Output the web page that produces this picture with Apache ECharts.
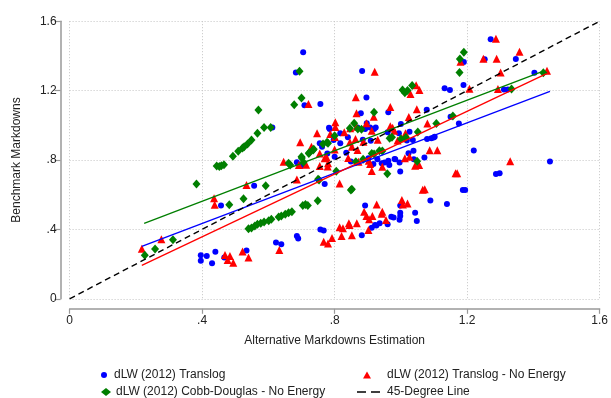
<!DOCTYPE html>
<html>
<head>
<meta charset="utf-8">
<script src="https://cdn.jsdelivr.net/npm/echarts@6/dist/echarts.min.js"></script>
<style>
  html, body { margin: 0; padding: 0; background: #fff; }
  #chart { width: 611px; height: 398px; }
</style>
</head>
<body>
<div id="chart"></div>
<script>
// dLW (2012) Translog (blue dots)
const translog = [
  [0.396, 0.251], [0.414, 0.247], [0.44, 0.271], [0.396, 0.22], [0.43, 0.205], [0.467, 0.238],
  [0.534, 0.279], [0.457, 0.538], [0.557, 0.652], [0.623, 0.325], [0.639, 0.315], [0.686, 0.362],
  [0.69, 0.348], [0.757, 0.4], [0.767, 0.394], [0.77, 0.662], [0.882, 0.367], [0.892, 0.538],
  [0.922, 0.425], [0.998, 0.733], [1.298, 0.723], [1.089, 0.567], [1.139, 0.546], [1.194, 0.627],
  [0.998, 0.538], [0.971, 0.473], [0.978, 0.469], [0.998, 0.496], [0.998, 0.477], [0.996, 0.456],
  [1.043, 0.496], [1.048, 0.448], [0.96, 0.429], [0.936, 0.435], [0.926, 0.423], [0.912, 0.41],
  [0.705, 1.421], [0.683, 1.305], [0.883, 1.313], [0.709, 1.115], [0.757, 1.123], [0.896, 1.16],
  [0.612, 0.988], [0.879, 1.069], [0.897, 1.012], [0.907, 0.988], [0.785, 0.979], [0.817, 0.954],
  [0.797, 0.915], [0.84, 0.931], [0.755, 0.896], [0.762, 0.877], [0.778, 0.838], [0.686, 0.787],
  [0.699, 0.765], [0.849, 0.792], [0.917, 0.777], [0.962, 1.075], [1.078, 1.09], [1.175, 1.01],
  [0.869, 0.988], [0.885, 0.917], [0.892, 0.979], [0.919, 0.979], [0.96, 0.96], [0.994, 0.954],
  [1.018, 0.912], [1.0, 1.007], [1.079, 0.921], [1.092, 0.925], [1.099, 0.929], [1.038, 0.854],
  [1.22, 0.855], [1.287, 0.719], [1.187, 0.627], [1.039, 0.804], [0.962, 0.796], [0.942, 0.781],
  [1.271, 1.496], [1.19, 1.365], [1.253, 1.38], [1.347, 1.382], [1.403, 1.303], [1.189, 1.232],
  [1.132, 1.213], [1.148, 1.203], [1.311, 1.207], [1.323, 1.207], [1.102, 0.934], [1.45, 0.792],
  [1.15, 1.05], [0.783, 0.986], [0.924, 0.988], [0.909, 0.911], [0.817, 0.896], [0.835, 0.842],
  [0.8, 0.819], [0.902, 0.81], [0.929, 0.804], [0.951, 0.785], [0.983, 0.804], [1.026, 0.963],
  [1.036, 0.915], [1.023, 0.839], [1.071, 0.815], [0.981, 0.806], [0.996, 0.785], [0.965, 0.771]
];

// dLW (2012) Translog - No Energy (red triangles)
const translogNoEnergy = [
  [0.218, 0.289], [0.277, 0.343], [0.469, 0.252], [0.484, 0.246], [0.477, 0.223], [0.494, 0.208],
  [0.522, 0.273], [0.54, 0.238], [0.633, 0.281], [0.436, 0.579], [0.438, 0.542], [0.534, 0.656],
  [0.686, 0.688], [0.815, 0.665], [0.767, 0.329], [0.78, 0.319], [0.792, 0.35], [0.815, 0.412],
  [0.825, 0.406], [0.821, 0.362], [0.843, 0.435], [0.867, 0.435], [0.852, 0.367], [0.889, 0.502],
  [0.896, 0.477], [0.904, 0.458], [0.902, 0.396], [0.912, 0.737], [1.17, 0.723], [1.072, 0.631],
  [0.927, 0.544], [1.003, 0.569], [1.006, 0.544], [1.02, 0.55], [0.914, 0.477], [0.944, 0.502],
  [0.942, 0.49], [0.955, 0.454], [0.845, 0.425], [0.921, 1.309], [0.721, 1.123], [0.864, 1.162],
  [0.866, 1.069], [0.802, 1.017], [0.802, 0.99], [0.866, 0.992], [0.801, 0.933], [0.829, 0.96],
  [0.846, 0.902], [0.852, 0.877], [0.747, 0.954], [0.696, 0.902], [0.73, 0.877], [0.755, 0.838],
  [0.776, 0.815], [0.646, 0.79], [0.692, 0.771], [0.714, 0.773], [0.755, 0.765], [0.841, 0.812],
  [0.872, 0.79], [0.907, 0.777], [1.046, 1.231], [1.056, 1.204], [1.029, 1.181], [1.207, 1.21],
  [0.918, 1.05], [0.968, 1.106], [1.048, 1.093], [1.08, 1.011], [0.847, 0.983], [0.863, 0.921],
  [0.912, 0.969], [0.93, 0.917], [0.968, 0.994], [0.98, 0.969], [0.99, 0.912], [1.014, 0.954],
  [1.024, 1.048], [1.087, 0.856], [1.11, 0.856], [1.33, 0.793], [1.165, 0.724], [1.066, 0.629],
  [1.043, 0.767], [1.012, 0.81], [0.903, 0.796], [1.287, 1.499], [1.18, 1.367], [1.249, 1.384],
  [1.289, 1.384], [1.358, 1.424], [1.301, 1.305], [1.441, 1.315], [1.293, 1.209], [0.896, 1.012],
  [0.975, 0.986], [0.787, 0.95], [0.887, 0.905], [0.869, 0.858], [0.8, 0.86], [0.77, 0.81],
  [0.78, 0.781], [0.779, 0.762], [0.944, 0.761], [1.026, 0.819], [1.055, 0.771], [1.001, 0.925]
];

// dLW (2012) Cobb-Douglas - No Energy (green diamonds)
const cobbDouglas = [
  [0.227, 0.251], [0.258, 0.287], [0.312, 0.341], [0.383, 0.662], [0.444, 0.765], [0.452, 0.762],
  [0.458, 0.767], [0.466, 0.772], [0.482, 0.542], [0.525, 0.577], [0.592, 0.652], [0.753, 0.685],
  [0.849, 0.627], [0.54, 0.404], [0.549, 0.408], [0.559, 0.419], [0.567, 0.429], [0.577, 0.435],
  [0.587, 0.442], [0.601, 0.45], [0.609, 0.458], [0.631, 0.471], [0.639, 0.477], [0.651, 0.488],
  [0.661, 0.496], [0.671, 0.502], [0.704, 0.538], [0.712, 0.544], [0.719, 0.538], [0.749, 0.565],
  [0.57, 1.088], [0.587, 0.988], [0.607, 0.988], [0.567, 0.954], [0.549, 0.915], [0.537, 0.892],
  [0.527, 0.877], [0.522, 0.869], [0.509, 0.85], [0.493, 0.821], [0.694, 1.312], [0.7, 1.158],
  [0.678, 1.119], [0.859, 1.012], [0.846, 0.983], [0.881, 0.977], [0.919, 1.075], [0.78, 0.896],
  [0.765, 0.892], [0.735, 0.858], [0.722, 0.838], [0.701, 0.812], [0.706, 0.787], [0.666, 0.771],
  [0.805, 0.735], [1.005, 1.204], [1.02, 1.2], [1.034, 1.229], [1.012, 1.187], [0.87, 0.979],
  [0.966, 0.925], [1.0, 0.921], [1.051, 0.962], [0.959, 0.721], [1.049, 0.793], [0.935, 0.854],
  [0.912, 0.838], [1.19, 1.421], [1.178, 1.382], [1.177, 1.305], [1.43, 1.303], [1.334, 1.209],
  [1.107, 1.011], [1.157, 1.054], [0.8, 0.94], [0.777, 0.902], [0.737, 0.862], [0.723, 0.842],
  [0.7, 0.819], [0.661, 0.781], [0.864, 0.79], [0.886, 0.804], [0.919, 0.835], [0.944, 0.852],
  [0.75, 0.689], [0.852, 0.631], [0.973, 0.931], [1.015, 0.929]
];

// fitted lines
const fitTranslog = [[0.218, 0.302], [1.45, 1.196]];
const fitTranslogNoEnergy = [[0.218, 0.193], [1.44, 1.298]];
const fitCobbDouglas = [[0.225, 0.435], [1.43, 1.312]];
const line45 = [[0, 0], [1.6, 1.6]];

const ticks = [0, 0.4, 0.8, 1.2, 1.6];
const names = ['dLW (2012) Translog', 'dLW (2012) Translog - No Energy',
  'dLW (2012) Cobb-Douglas - No Energy', '45-Degree Line'];

const BLUE = '#0000ff';
const RED = '#ff0000';
const GREEN = '#007f00';
const FONT = '"Liberation Sans", Arial, sans-serif';

function fmt(v) {
  if (v === 0) return '0';
  const s = String(+v.toFixed(1));
  return s.replace(/^0\./, '.');
}

const axisCommon = {
  type: 'value',
  min: ticks[0],
  max: ticks[ticks.length - 1],
  interval: 0.4,
  nameLocation: 'middle',
  nameTextStyle: { fontFamily: FONT, fontSize: 12, color: '#222' },
  axisLine: { show: true, onZero: false, lineStyle: { color: '#999', width: 1.5 } },
  axisTick: { show: true, length: 5, lineStyle: { color: '#999', width: 1.2 } },
  axisLabel: { formatter: fmt, fontFamily: FONT, fontSize: 12, color: '#222' },
  splitLine: { show: true, lineStyle: { color: '#c4c4c4', type: [1, 2], width: 1 } },
};

// legend icons: small triangle and a two-dash line
const triangleIcon = 'path://M4,0L8,7L0,7Z';
const dashIcon = 'path://M0,0H9V1.6H0Z M14,0H23V1.6H14Z';

const legendText = { fontFamily: FONT, fontSize: 12, color: '#222' };

const chart = echarts.init(document.getElementById('chart'));
chart.setOption({
  animation: false,
  grid: { left: 69.6, right: 3.8, top: 21.2, bottom: 99.2 },
  xAxis: Object.assign({}, axisCommon, {
    name: 'Alternative Markdowns Estimation',
    nameGap: 26,
    offset: 10,
    axisLabel: Object.assign({}, axisCommon.axisLabel, { margin: 6 }),
  }),
  yAxis: Object.assign({}, axisCommon, {
    name: 'Benchmark Markdowns',
    nameGap: 38,
    offset: 9,
    axisLabel: Object.assign({}, axisCommon.axisLabel, { margin: 4 }),
    axisTick: Object.assign({}, axisCommon.axisTick, { length: 6 }),
  }),
  legend: [
    { data: [{ name: names[0], icon: 'circle' }], left: 101, top: 369, itemWidth: 10, itemHeight: 6,
      textStyle: legendText },
    { data: [{ name: names[2], icon: 'diamond' }], left: 101, top: 386, itemWidth: 10, itemHeight: 8,
      textStyle: legendText },
    { data: [{ name: names[1], icon: triangleIcon }], left: 363, top: 369, itemWidth: 8, itemHeight: 7,
      textStyle: Object.assign({ padding: [0, 0, 0, 11] }, legendText) },
    { data: [{ name: names[3], icon: dashIcon }], left: 357, top: 386, itemWidth: 23, itemHeight: 8,
      textStyle: Object.assign({ padding: [0, 0, 0, 2] }, legendText) },
  ].map(l => Object.assign(l, {
    selectedMode: false,
    padding: 0,
    symbolKeepAspect: true,
  })),
  series: [
    {
      name: names[0], type: 'scatter', data: translog,
      symbol: 'circle', symbolSize: 6, itemStyle: { color: BLUE, opacity: 1 }, z: 2,
    },
    {
      name: names[1], type: 'scatter', data: translogNoEnergy,
      symbol: 'triangle', symbolSize: 8, itemStyle: { color: RED, opacity: 1 }, z: 2,
    },
    {
      name: names[2], type: 'scatter', data: cobbDouglas,
      symbol: 'diamond', symbolSize: [8, 9], itemStyle: { color: GREEN, opacity: 1 }, z: 2,
    },
    {
      name: 'fitTranslog', type: 'line', data: fitTranslog, symbol: 'none',
      lineStyle: { color: BLUE, width: 1.3 }, z: 3,
    },
    {
      name: 'fitTranslogNoEnergy', type: 'line', data: fitTranslogNoEnergy, symbol: 'none',
      lineStyle: { color: RED, width: 1.3 }, z: 3,
    },
    {
      name: 'fitCobbDouglas', type: 'line', data: fitCobbDouglas, symbol: 'none',
      lineStyle: { color: GREEN, width: 1.3 }, z: 3,
    },
    {
      name: names[3], type: 'line', data: line45, symbol: 'none',
      itemStyle: { color: '#000' },
      lineStyle: { color: '#000', width: 1.4, type: [6, 4] }, z: 4,
    },
  ],
});
</script>
</body>
</html>
